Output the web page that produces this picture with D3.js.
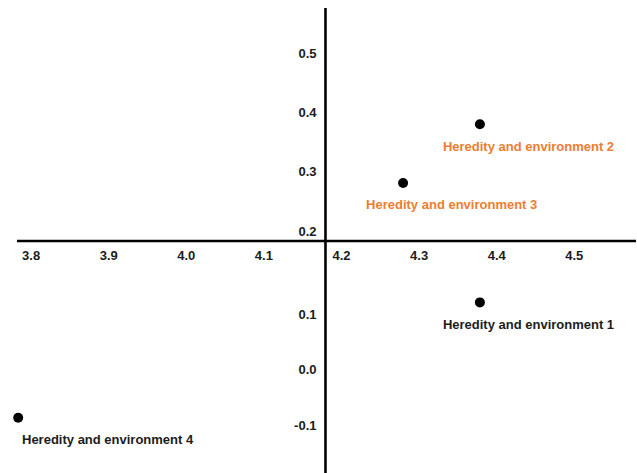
<!DOCTYPE html>
<html>
<head>
<meta charset="utf-8">
<script src="https://cdn.jsdelivr.net/npm/d3@7"></script>
<style>
  html, body { margin: 0; padding: 0; background: #fff; }
  svg { display: block; font-family: "Liberation Sans", Arial, sans-serif; }
</style>
</head>
<body>
<svg id="chart" width="637" height="473"></svg>
<script>
// ---- data ----
const names = ["Heredity and environment 1", "Heredity and environment 2", "Heredity and environment 3", "Heredity and environment 4"];
const xValues = [4.379, 4.379, 4.28, 3.784];
const yValues = [0.114, 0.38, 0.281, -0.087];
const groups = ["dark", "highlight", "highlight", "dark"];
const xTicks = [3.8, 3.9, 4.0, 4.1, 4.2, 4.3, 4.4, 4.5];
const yTicks = [0.5, 0.4, 0.3, 0.2, 0.1, 0.0, -0.1];
const xCross = 4.18;   // where vertical axis sits
const yCross = 0.188;  // where horizontal axis sits

// ---- layout ----
const svg = d3.select("#chart");
const x = d3.scaleLinear().domain([4.2, 4.3]).range([341, 418.6]);
// the source figure's y tick spacing differs above and below the horizontal axis
const y = d3.scaleLinear().domain([-0.1, 0.1, 0.2, 0.5]).range([425, 314, 231, 53]);
const color = d3.scaleOrdinal().domain(["dark", "highlight"]).range(["#1c1c1c", "#ED7D31"]);

const fmt = v => d3.format(".1f")(v).replace("\u2212", "-");

// horizontal axis
const ax = svg.append("g").attr("transform", `translate(0,${y(yCross)})`)
  .call(d3.axisBottom(x).tickValues(xTicks).tickSize(0).tickPadding(10).tickFormat(fmt));
ax.select(".domain").remove();
ax.selectAll("text").attr("font-size", 13).attr("font-weight", "bold")
  .attr("font-family", "Liberation Sans, Arial, sans-serif").attr("fill", "#1c1c1c");
svg.append("line").attr("x1", 17).attr("x2", 636)
  .attr("y1", y(yCross)).attr("y2", y(yCross))
  .attr("stroke", "#000").attr("stroke-width", 2.6);

// vertical axis
const ay = svg.append("g").attr("transform", `translate(${x(xCross) - 9},0)`)
  .call(d3.axisLeft(y).tickValues(yTicks).tickSize(0).tickPadding(0).tickFormat(fmt));
ay.select(".domain").remove();
ay.selectAll("text").attr("font-size", 13).attr("font-weight", "bold")
  .attr("font-family", "Liberation Sans, Arial, sans-serif").attr("fill", "#1c1c1c");
svg.append("line").attr("x1", x(xCross)).attr("x2", x(xCross))
  .attr("y1", 8).attr("y2", 473)
  .attr("stroke", "#000").attr("stroke-width", 2.6);

// points
const data = names.map((n, i) => ({ name: n, x: xValues[i], y: yValues[i], g: groups[i] }));
svg.append("g").selectAll("circle").data(data).join("circle")
  .attr("cx", d => x(d.x)).attr("cy", d => y(d.y)).attr("r", 5)
  .attr("fill", "#000");

svg.append("g").selectAll("text").data(data).join("text")
  .attr("x", d => Math.max(x(d.x) - 37, 22))
  .attr("y", d => y(d.y) + 26.5)
  .attr("font-size", 13).attr("font-weight", "bold")
  .attr("fill", d => color(d.g))
  .text(d => d.name);
</script>
</body>
</html>
